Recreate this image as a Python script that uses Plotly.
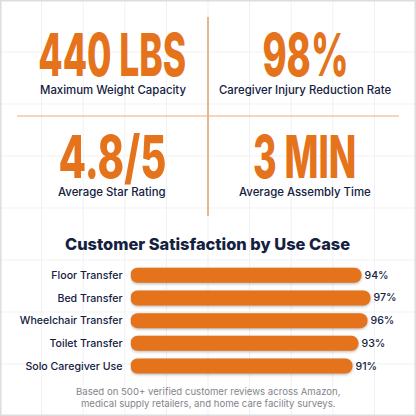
import plotly.graph_objects as go

# satisfaction bars
use_cases = ["Floor Transfer", "Bed Transfer", "Wheelchair Transfer", "Toilet Transfer", "Solo Caregiver Use"]
satisfaction = [94, 97, 96, 93, 91]
axis_start = 17  # bars do not start from zero in the original

# stat tiles
stat_values = ["440 LBS", "98%", "4.8/5", "3 MIN"]
stat_labels = ["Maximum Weight Capacity", "Caregiver Injury Reduction Rate", "Average Star Rating", "Average Assembly Time"]
stat_x = [112.5, 305, 112, 304.5]
stat_big_y = [54.5, 54.5, 156.5, 156.5]
stat_small_y = [89.5, 89.5, 191.5, 191.5]
stat_squeeze = [0.6, 0.62, 0.68, 0.61]

ORANGE = "#E5731B"
NAVY = "#14213F"
DIVIDER = "#E3B88F"
GRID = "#F1F1F3"
SIZE = 416
FONT = "Inter"
BIG_SIZE = 59


def px(x):
    return x / SIZE


def py(y):
    return 1 - y / SIZE


fig = go.Figure()

fig.add_trace(go.Bar(
    y=use_cases,
    x=[v - axis_start for v in satisfaction],
    base=axis_start,
    orientation="h",
    marker=dict(color=ORANGE, cornerradius=7.5, line=dict(width=0)),
    width=0.66,
    text=[f"{v}%" for v in satisfaction],
    textposition="outside",
    cliponaxis=False,
    textfont=dict(family=FONT, size=10.6, color=NAVY, weight=500),
))

shapes = []
# faint background grid
for i in range(1, 10):
    shapes.append(dict(type="line", xref="paper", yref="paper", layer="below",
                       x0=px(i * 41.6), x1=px(i * 41.6), y0=0, y1=1, line=dict(color=GRID, width=1)))
for i in range(1, 8):
    shapes.append(dict(type="line", xref="paper", yref="paper", layer="below",
                       x0=0, x1=1, y0=py(i * 52), y1=py(i * 52), line=dict(color=GRID, width=1)))

# dividers
shapes.append(dict(type="line", xref="paper", yref="paper", x0=px(208), x1=px(208), y0=py(17), y1=py(216),
                   line=dict(color=DIVIDER, width=2)))
shapes.append(dict(type="line", xref="paper", yref="paper", x0=px(17), x1=px(399), y0=py(116), y1=py(116),
                   line=dict(color="#E8AE7C", width=1)))
# outer frame
shapes.append(dict(type="rect", xref="paper", yref="paper", x0=0, x1=1, y0=0, y1=1,
                   line=dict(color="#DDDDDD", width=3)))

annotations = []
for value, label, x, y_big, y_small in zip(stat_values, stat_labels, stat_x, stat_big_y, stat_small_y):
    annotations.append(dict(text=value, x=px(x), y=py(y_big), xref="paper", yref="paper", showarrow=False,
                            xanchor="center", yanchor="middle",
                            font=dict(family=FONT, size=BIG_SIZE, color=ORANGE, weight=800)))
    annotations.append(dict(text=label, x=px(x), y=py(y_small), xref="paper", yref="paper", showarrow=False,
                            xanchor="center", yanchor="middle",
                            font=dict(family=FONT, size=11.4, color=NAVY, weight=500)))

annotations.append(dict(text="Customer Satisfaction by Use Case", x=px(207.5), y=py(244), xref="paper", yref="paper",
                        showarrow=False, xanchor="center", yanchor="middle",
                        font=dict(family=FONT, size=16.4, color=NAVY, weight=800)))
annotations.append(dict(text="Based on 500+ verified customer reviews across Amazon,<br>medical supply retailers, and home care facility surveys.",
                        x=px(208), y=py(397), xref="paper", yref="paper", showarrow=False,
                        xanchor="center", yanchor="middle", align="center",
                        font=dict(family=FONT, size=9.6, color="#85858A")))

fig.update_layout(
    width=SIZE,
    height=SIZE,
    margin=dict(l=0, r=0, t=0, b=0),
    paper_bgcolor="#FFFFFF",
    plot_bgcolor="rgba(0,0,0,0)",
    showlegend=False,
    shapes=shapes,
    annotations=annotations,
    xaxis=dict(domain=[px(130.5), px(410)], range=[axis_start, axis_start + 279.5 / 3], visible=False),
    yaxis=dict(domain=[py(377.4), py(263.9)], autorange="reversed", showgrid=False, zeroline=False,
               showline=False, ticks="", ticklabelstandoff=7,
               tickfont=dict(family=FONT, size=10.6, color=NAVY, weight=500)),
)

# no condensed font installed, so squeeze the big numbers; also soft bar shadows
post_script = """
var squeeze = %s;
var big = %s;
document.body.style.margin = '0';
document.querySelectorAll('.annotation-text').forEach(function (t) {
  var i = big.indexOf(t.textContent);
  if (i >= 0) {
    t.style.transformBox = 'fill-box';
    t.style.transformOrigin = 'center';
    t.style.transform = 'scaleX(' + squeeze[i] + ')';
  }
});
document.querySelectorAll('.bars .point path').forEach(function (p) {
  p.style.filter = 'drop-shadow(0 1.5px 1.5px rgba(0,0,0,0.3))';
});
""" % (stat_squeeze, stat_values)

fig.write_html("out.html", config={"displayModeBar": False}, post_script=post_script)
